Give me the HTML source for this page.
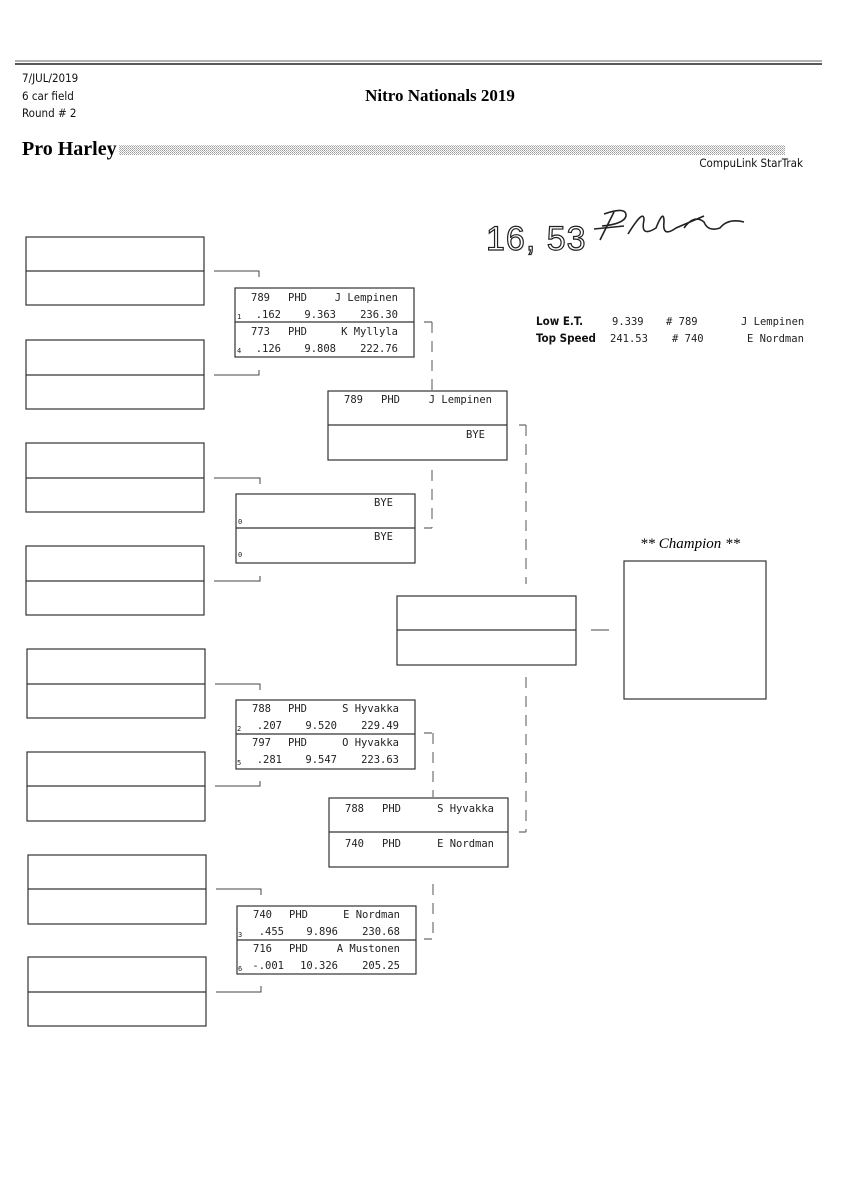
<!DOCTYPE html>
<html><head><meta charset="utf-8"><style>
html,body{margin:0;padding:0;background:#fff;}
svg{display:block}
.m{font-family:"DejaVu Sans Mono","Liberation Mono",monospace;font-size:10.5px;fill:#222;}
.s{font-family:"DejaVu Sans Mono","Liberation Mono",monospace;font-size:7px;fill:#222;}
.h{font-family:"DejaVu Sans Condensed","Liberation Sans",sans-serif;font-size:11.5px;fill:#111;}
.b{fill:none;stroke:#333;stroke-width:1.2}
.c{fill:none;stroke:#444;stroke-width:1}
.d{fill:none;stroke:#555;stroke-width:1;stroke-dasharray:11,8}
</style></head><body>
<svg width="848" height="1200" xmlns="http://www.w3.org/2000/svg">
<defs><pattern id="p" width="2" height="2" patternUnits="userSpaceOnUse"><rect width="1" height="1" fill="#999"/><rect x="1" y="1" width="1" height="1" fill="#bbb"/></pattern></defs>
<line x1="15" y1="61" x2="822" y2="61" stroke="#666" stroke-width="1"/>
<line x1="15" y1="64" x2="822" y2="64" stroke="#222" stroke-width="1.6"/>
<text class="h" x="22" y="82">7/JUL/2019</text>
<text class="h" x="22" y="100">6 car field</text>
<text class="h" x="22" y="117">Round # 2</text>
<text x="440" y="101" text-anchor="middle" style="font-family:'Liberation Serif',serif;font-weight:bold;font-size:17px">Nitro Nationals 2019</text>
<text x="22" y="155" style="font-family:'Liberation Serif',serif;font-weight:bold;font-size:20px">Pro Harley</text>
<rect x="119" y="145" width="666" height="10" fill="url(#p)"/>
<text class="h" x="803" y="167" text-anchor="end">CompuLink StarTrak</text>

<!-- handwriting -->
<text x="486" y="250" style="font-family:'Liberation Sans',sans-serif;font-size:34px;fill:none;stroke:#222;stroke-width:1.2;letter-spacing:1px">16, 53</text>
<path d="M614 212 L600 240 M604 214 Q627 206 626 216 Q624 224 602 226 M594 229 L624 226 M628 234 Q644 208 644 220 Q640 238 656 228 Q664 208 664 222 Q662 238 676 228 L704 216 M684 228 Q694 214 704 222 Q708 232 720 228 Q728 218 744 222" stroke="#222" stroke-width="1.6" fill="none"/>

<!-- stats -->
<g class="h" style="font-weight:600"><text x="536" y="325">Low  E.T.</text><text x="536" y="342">Top Speed</text></g>
<g class="m"><text x="612" y="325">9.339</text><text x="666" y="325"># 789</text><text x="741" y="325">J Lempinen</text>
<text x="610" y="342">241.53</text><text x="672" y="342"># 740</text><text x="747" y="342">E Nordman</text></g>

<!-- left boxes -->
<g class="b">
<rect x="26" y="237" width="178" height="68"/><line x1="26" y1="271" x2="204" y2="271"/>
<rect x="26" y="340" width="178" height="69"/><line x1="26" y1="375" x2="204" y2="375"/>
<rect x="26" y="443" width="178" height="69"/><line x1="26" y1="478" x2="204" y2="478"/>
<rect x="26" y="546" width="178" height="69"/><line x1="26" y1="581" x2="204" y2="581"/>
<rect x="27" y="649" width="178" height="69"/><line x1="27" y1="684" x2="205" y2="684"/>
<rect x="27" y="752" width="178" height="69"/><line x1="27" y1="786" x2="205" y2="786"/>
<rect x="28" y="855" width="178" height="69"/><line x1="28" y1="889" x2="206" y2="889"/>
<rect x="28" y="957" width="178" height="69"/><line x1="28" y1="992" x2="206" y2="992"/>
</g>
<g class="c">
<path d="M214 271 H259 V277"/><path d="M214 375 H259 V370"/>
<path d="M214 478 H260 V484"/><path d="M214 581 H260 V576"/>
<path d="M215 684 H260 V690"/><path d="M215 786 H260 V781"/>
<path d="M216 889 H261 V895"/><path d="M216 992 H261 V986"/>
<path d="M591 630 H609"/>
</g>

<!-- R2 boxes -->
<g class="b">
<rect x="235" y="288" width="179" height="69"/><line x1="235" y1="322" x2="414" y2="322"/>
<rect x="236" y="494" width="179" height="69"/><line x1="236" y1="528" x2="415" y2="528"/>
<rect x="236" y="700" width="179" height="69"/><line x1="236" y1="734" x2="415" y2="734"/>
<rect x="237" y="906" width="179" height="68"/><line x1="237" y1="940" x2="416" y2="940"/>
<rect x="328" y="391" width="179" height="69"/><line x1="328" y1="425" x2="507" y2="425"/>
<rect x="329" y="798" width="179" height="69"/><line x1="329" y1="832" x2="508" y2="832"/>
<rect x="397" y="596" width="179" height="69"/><line x1="397" y1="630" x2="576" y2="630"/>
<rect x="624" y="561" width="142" height="138"/>
</g>
<g class="c"><path d="M424 322 H432"/><path d="M424 528 H432"/><path d="M424 733 H432"/><path d="M424 939 H432"/><path d="M519 425 H526"/><path d="M519 832 H526"/></g>
<g class="d">
<line x1="432" y1="322" x2="432" y2="390"/><line x1="432" y1="470" x2="432" y2="528"/>
<line x1="433" y1="733" x2="433" y2="797"/><line x1="433" y1="884" x2="433" y2="939"/>
<line x1="526" y1="425" x2="526" y2="584"/><line x1="526" y1="677" x2="526" y2="832"/>
</g>

<text x="690" y="548" text-anchor="middle" style="font-family:'Liberation Serif',serif;font-style:italic;font-size:15px">** Champion **</text>

<g class="m">
<text x="251" y="301">789</text><text x="288" y="301">PHD</text><text x="398" y="301" text-anchor="end">J Lempinen</text>
<text x="281" y="318" text-anchor="end">.162</text><text x="336" y="318" text-anchor="end">9.363</text><text x="398" y="318" text-anchor="end">236.30</text>
<text x="251" y="335">773</text><text x="288" y="335">PHD</text><text x="398" y="335" text-anchor="end">K Myllyla</text>
<text x="281" y="352" text-anchor="end">.126</text><text x="336" y="352" text-anchor="end">9.808</text><text x="398" y="352" text-anchor="end">222.76</text>
</g>
<g class="s"><text x="237" y="319">1</text><text x="237" y="353">4</text><text x="238" y="524">0</text><text x="238" y="557">0</text>
<text x="237" y="731">2</text><text x="237" y="765">5</text><text x="238" y="937">3</text><text x="238" y="971">6</text></g>
<g class="m">
<text x="393" y="506" text-anchor="end">BYE</text><text x="393" y="540" text-anchor="end">BYE</text>
<text x="252" y="712">788</text><text x="288" y="712">PHD</text><text x="399" y="712" text-anchor="end">S Hyvakka</text>
<text x="282" y="729" text-anchor="end">.207</text><text x="337" y="729" text-anchor="end">9.520</text><text x="399" y="729" text-anchor="end">229.49</text>
<text x="252" y="746">797</text><text x="288" y="746">PHD</text><text x="399" y="746" text-anchor="end">O Hyvakka</text>
<text x="282" y="763" text-anchor="end">.281</text><text x="337" y="763" text-anchor="end">9.547</text><text x="399" y="763" text-anchor="end">223.63</text>
<text x="253" y="918">740</text><text x="289" y="918">PHD</text><text x="400" y="918" text-anchor="end">E Nordman</text>
<text x="284" y="935" text-anchor="end">.455</text><text x="338" y="935" text-anchor="end">9.896</text><text x="400" y="935" text-anchor="end">230.68</text>
<text x="253" y="952">716</text><text x="289" y="952">PHD</text><text x="400" y="952" text-anchor="end">A Mustonen</text>
<text x="284" y="969" text-anchor="end">-.001</text><text x="338" y="969" text-anchor="end">10.326</text><text x="400" y="969" text-anchor="end">205.25</text>
<text x="344" y="403">789</text><text x="381" y="403">PHD</text><text x="492" y="403" text-anchor="end">J Lempinen</text>
<text x="485" y="438" text-anchor="end">BYE</text>
<text x="345" y="812">788</text><text x="382" y="812">PHD</text><text x="494" y="812" text-anchor="end">S Hyvakka</text>
<text x="345" y="847">740</text><text x="382" y="847">PHD</text><text x="494" y="847" text-anchor="end">E Nordman</text>
</g>
</svg>
</body></html>
